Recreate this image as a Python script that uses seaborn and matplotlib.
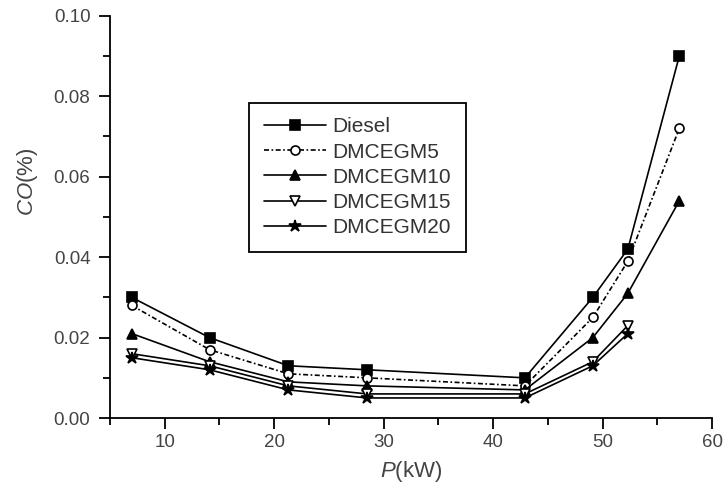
import matplotlib
matplotlib.use("Agg")
import matplotlib.pyplot as plt
from matplotlib.ticker import MultipleLocator, FormatStrFormatter
import seaborn as sns
import pandas as pd

# Engine power (kW) and CO emissions (%) per fuel blend
power = [7.0, 14.1, 21.3, 28.5, 42.9, 49.1, 52.3, 57.0]
diesel = [0.030, 0.020, 0.013, 0.012, 0.010, 0.030, 0.042, 0.090]
dmcegm5 = [0.028, 0.017, 0.011, 0.010, 0.008, 0.025, 0.039, 0.072]
dmcegm10 = [0.021, 0.014, 0.009, 0.008, 0.007, 0.020, 0.031, 0.054]
dmcegm15 = [0.016, 0.013, 0.008, 0.006, 0.006, 0.014, 0.023]
dmcegm20 = [0.015, 0.012, 0.007, 0.005, 0.005, 0.013, 0.021]

series = {
    "Diesel": diesel,
    "DMCEGM5": dmcegm5,
    "DMCEGM10": dmcegm10,
    "DMCEGM15": dmcegm15,
    "DMCEGM20": dmcegm20,
}

sns.set_theme(style="ticks")
plt.rcParams["font.family"] = ["Liberation Sans", "DejaVu Sans"]
plt.rcParams["mathtext.fontset"] = "custom"
plt.rcParams["mathtext.it"] = "Liberation Sans:italic"
plt.rcParams["mathtext.rm"] = "Liberation Sans"

styles = {
    "Diesel": dict(marker="s", mfc="black", ls="-"),
    "DMCEGM5": dict(marker="o", mfc="white", ls=(0, (3, 1.5, 1, 1.5))),
    "DMCEGM10": dict(marker="^", mfc="black", ls="-"),
    "DMCEGM15": dict(marker="v", mfc="white", ls="-"),
    "DMCEGM20": dict(marker="*", mfc="black", ls="-"),
}

fig = plt.figure(figsize=(7.23, 4.93), dpi=100)
ax = fig.add_axes([0.152, 0.152, 0.833, 0.816])

for name, vals in series.items():
    df = pd.DataFrame({"P": power[:len(vals)], "CO": vals})
    st = styles[name]
    ms = 9 if st["marker"] == "*" else 6.5
    sns.lineplot(data=df, x="P", y="CO", ax=ax, color="black", lw=1.2,
                 linestyle=st["ls"], marker=st["marker"], markersize=ms,
                 markerfacecolor=st["mfc"], markeredgecolor="black",
                 markeredgewidth=1.2, label=name)

ax.set_xlim(5, 60)
ax.set_ylim(0, 0.10)
ax.xaxis.set_major_locator(MultipleLocator(10))
ax.xaxis.set_minor_locator(MultipleLocator(5))
ax.yaxis.set_major_locator(MultipleLocator(0.02))
ax.yaxis.set_minor_locator(MultipleLocator(0.01))
ax.yaxis.set_major_formatter(FormatStrFormatter("%.2f"))

for s in ["top", "right"]:
    ax.spines[s].set_visible(False)
for s in ["left", "bottom"]:
    ax.spines[s].set_color("black")
    ax.spines[s].set_linewidth(1.3)

ax.tick_params(which="major", direction="out", length=8, width=1.3,
               colors="black", labelcolor="#444444", labelsize=13.5)
ax.tick_params(axis="y", which="major", pad=6)
ax.tick_params(which="minor", direction="out", length=5, width=1.3, colors="black")

ax.set_xlabel(r"$\it{P}$(kW)", fontsize=16, color="#444444", labelpad=6)
ax.set_ylabel(r"$\it{CO}$(%)", fontsize=16, color="#444444")
ax.yaxis.set_label_coords(-0.116, 0.587)

leg = ax.legend(loc="upper left", bbox_to_anchor=(0.231, 0.784), fontsize=15,
                frameon=True, fancybox=False, edgecolor="black", framealpha=1,
                handlelength=3.0, handletextpad=0.3, labelspacing=0.3,
                borderpad=0.7, borderaxespad=0)
leg.get_frame().set_linewidth(1.3)
for t in leg.get_texts():
    t.set_color("#333333")

fig.savefig("out.png", dpi=100)
